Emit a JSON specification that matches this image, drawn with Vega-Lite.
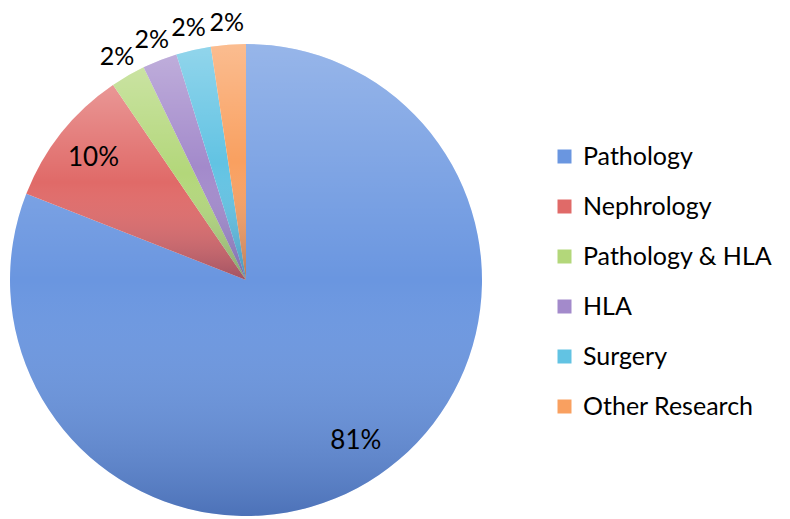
{
  "$schema": "https://vega.github.io/schema/vega-lite/v6.json",
  "width": 492,
  "height": 472,
  "autosize": {"type": "none"},
  "padding": {"left": 0, "top": 44, "right": 298, "bottom": 3},
  "background": "white",
  "config": {"view": {"stroke": null}, "font": "Lato"},
  "data": {
    "values": [
      {"category": "Pathology", "count": 34, "label": "81%", "order": 1},
      {"category": "Nephrology", "count": 4, "label": "10%", "order": 2},
      {"category": "Pathology & HLA", "count": 1, "label": "2%", "order": 3},
      {"category": "HLA", "count": 1, "label": "2%", "order": 4},
      {"category": "Surgery", "count": 1, "label": "2%", "order": 5},
      {"category": "Other Research", "count": 1, "label": "2%", "order": 6}
    ]
  },
  "layer": [
    {
      "mark": {"type": "arc", "radius": 236, "stroke": null},
      "encoding": {
        "theta": {"field": "count", "type": "quantitative", "stack": true},
        "order": {"field": "order", "type": "quantitative"},
        "color": {
          "field": "category",
          "type": "nominal",
          "sort": ["Pathology", "Nephrology", "Pathology & HLA", "HLA", "Surgery", "Other Research"],
          "scale": {
            "domain": ["Pathology", "Nephrology", "Pathology & HLA", "HLA", "Surgery", "Other Research"],
            "range": ["#6a96e0", "#e06a68", "#b3d77a", "#a38acb", "#62c3e3", "#f9a060"]
          },
          "legend": {
            "title": null,
            "orient": "none",
            "legendX": 552,
            "legendY": 100,
            "symbolType": "square",
            "symbolSize": 196,
            "symbolStrokeWidth": 0,
            "labelFontSize": 25,
            "labelFont": "Lato",
            "labelColor": "#000000",
            "labelOffset": 6,
            "rowPadding": 24,
            "labelLimit": 400
          }
        }
      }
    },
    {
      "mark": {
        "type": "arc",
        "radius": 236,
        "stroke": null,
        "fill": {
          "gradient": "linear",
          "x1": 0, "y1": 0, "x2": 0, "y2": 1,
          "stops": [
            {"offset": 0, "color": "rgba(255,255,255,0.3)"},
            {"offset": 0.5, "color": "rgba(255,255,255,0)"},
            {"offset": 1, "color": "rgba(0,20,80,0.28)"}
          ]
        }
      },
      "encoding": {
        "theta": {"field": "count", "type": "quantitative", "stack": true},
        "order": {"field": "order", "type": "quantitative"}
      }
    },
    {
      "transform": [{"filter": "datum.count >= 4"}],
      "mark": {"type": "text", "radius": 195, "fontSize": 26, "color": "#000000", "font": "Lato"},
      "encoding": {
        "theta": {"field": "count", "type": "quantitative", "stack": true},
        "order": {"field": "order", "type": "quantitative"},
        "text": {"field": "label"}
      }
    },
    {
      "mark": {"type": "text", "radius": 258, "fontSize": 25, "color": "#000000", "font": "Lato"},
      "encoding": {
        "theta": {"field": "count", "type": "quantitative", "stack": true},
        "order": {"field": "order", "type": "quantitative"},
        "text": {"condition": {"test": "datum.count < 4", "field": "label"}, "value": ""}
      }
    }
  ]
}
